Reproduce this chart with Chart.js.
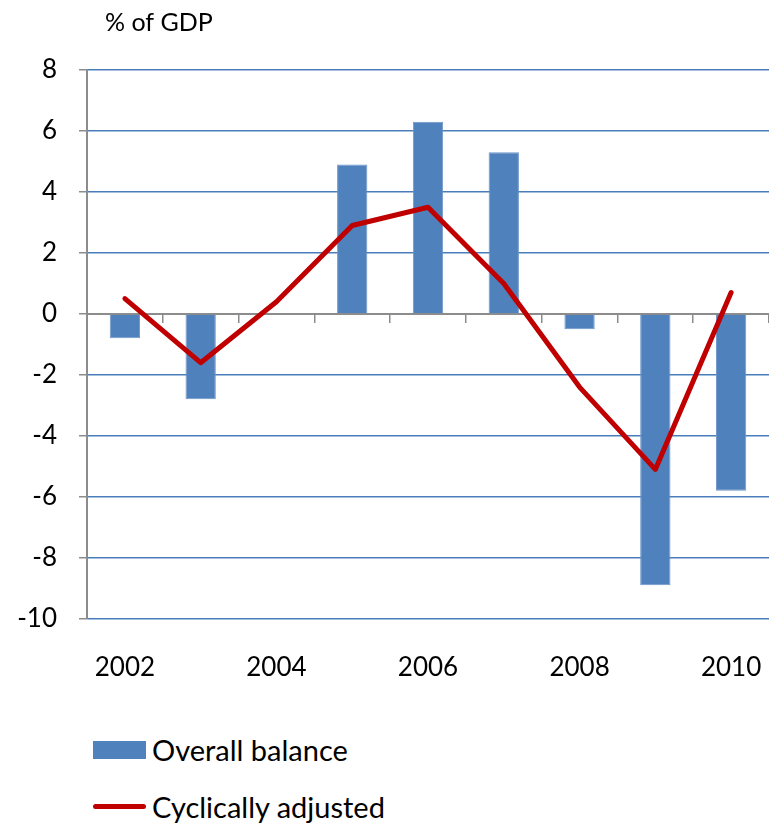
<!DOCTYPE html>
<html>
<head>
<meta charset="utf-8">
<script src="https://cdn.jsdelivr.net/npm/chart.js@4.4.1/dist/chart.umd.min.js"></script>
<style>
  body { margin: 0; background: #fff; font-family: Lato, sans-serif; }
  #wrap { position: relative; width: 769px; height: 825px; }
  #chartBox { position: absolute; left: 0; top: 0; width: 769px; height: 720px; }
  #legend { position: absolute; left: 93px; top: 721px; }
  .item { display: flex; align-items: center; height: 57px; font-size: 29px; color: #000; }
  .swatch { width: 53px; margin-right: 6px; }
</style>
</head>
<body>
<div id="wrap">
  <div id="chartBox"><canvas id="myCanvas"></canvas></div>
  <div id="legend"></div>
</div>
<script>
const years = ['2002', '2003', '2004', '2005', '2006', '2007', '2008', '2009', '2010'];
const overallBalance = [-0.8, -2.8, null, 4.9, 6.3, 5.3, -0.5, -8.9, -5.8];
const cyclicallyAdjusted = [0.5, -1.6, 0.4, 2.9, 3.5, 1.0, -2.4, -5.1, 0.7];
const yTicks = [-10, -8, -6, -4, -2, 0, 2, 4, 6, 8];
const unitLabel = '% of GDP';

const FONT = 'Lato, "Open Sans", sans-serif';

const titlePlugin = {
  id: 'unitTitle',
  afterDraw(chart) {
    const ctx = chart.ctx;
    ctx.save();
    ctx.font = '25px ' + FONT;
    ctx.fillStyle = '#000';
    ctx.textBaseline = 'middle';
    ctx.fillText(unitLabel, 105, 23);
    ctx.restore();
  },
};

const ctx = document.getElementById('myCanvas');
const graph = new Chart(ctx, {
  data: {
    labels: years,
    datasets: [
      {
        type: 'line',
        label: 'Cyclically adjusted',
        data: cyclicallyAdjusted,
        borderColor: '#C00000',
        borderWidth: 5,
        borderCapStyle: 'round',
        borderJoinStyle: 'round',
        pointRadius: 0,
        tension: 0,
        order: 1,
      },
      {
        type: 'bar',
        label: 'Overall balance',
        data: overallBalance,
        backgroundColor: '#4F81BD',
        borderColor: '#6F97C9',
        borderWidth: 1,
        barPercentage: 0.4,
        categoryPercentage: 1,
        order: 2,
      },
    ],
  },
  options: {
    responsive: true,
    maintainAspectRatio: false,
    animation: false,
    layout: { padding: { top: 70, right: 0, bottom: 12, left: 0 } },
    plugins: {
      legend: { display: false },
      tooltip: { enabled: false },
    },
    scales: {
      x: {
        type: 'category',
        position: 'bottom',
        offset: true,
        grid: { display: false },
        border: { display: false },
        afterFit: (scale) => {
          scale.paddingLeft = 0;
          scale.paddingRight = 0;
        },
        ticks: {
          autoSkip: false,
          maxRotation: 0,
          padding: 25,
          color: '#000',
          font: { family: FONT, size: 26 },
          callback: function (value, index) {
            return index % 2 === 0 ? this.getLabelForValue(value) : '';
          },
        },
      },
      x0: {
        type: 'category',
        position: { y: 0 },
        offset: true,
        grid: {
          offset: true,
          drawOnChartArea: false,
          drawTicks: true,
          tickLength: 8,
          color: '#8C8C8C',
          lineWidth: 1.5,
        },
        border: { color: '#8C8C8C', width: 2 },
        ticks: { display: false },
      },
      y: {
        min: -10,
        max: 8,
        afterBuildTicks: (scale) => {
          scale.ticks = yTicks.map((v) => ({ value: v }));
        },
        afterFit: (scale) => {
          scale.width = 87;
          scale.paddingTop = 0;
          scale.paddingBottom = 0;
        },
        grid: {
          color: '#4A7EBB',
          lineWidth: 1.5,
          tickLength: 8,
          tickColor: '#8C8C8C',
        },
        border: { color: '#8C8C8C', width: 2 },
        ticks: {
          padding: 22,
          color: '#000',
          font: { family: FONT, size: 26 },
        },
      },
    },
  },
  plugins: [titlePlugin],
});

// legend drawn from the chart's datasets, stacked vertically
const legendEl = document.getElementById('legend');
[...graph.data.datasets].reverse().forEach((ds) => {
  const row = document.createElement('div');
  row.className = 'item';
  const sw = document.createElement('div');
  sw.className = 'swatch';
  if (ds.type === 'bar') {
    sw.style.height = '18px';
    sw.style.background = ds.backgroundColor;
  } else {
    sw.style.height = '5px';
    sw.style.borderRadius = '3px';
    sw.style.background = ds.borderColor;
  }
  const label = document.createElement('span');
  label.textContent = ds.label;
  row.appendChild(sw);
  row.appendChild(label);
  legendEl.appendChild(row);
});
</script>
</body>
</html>
